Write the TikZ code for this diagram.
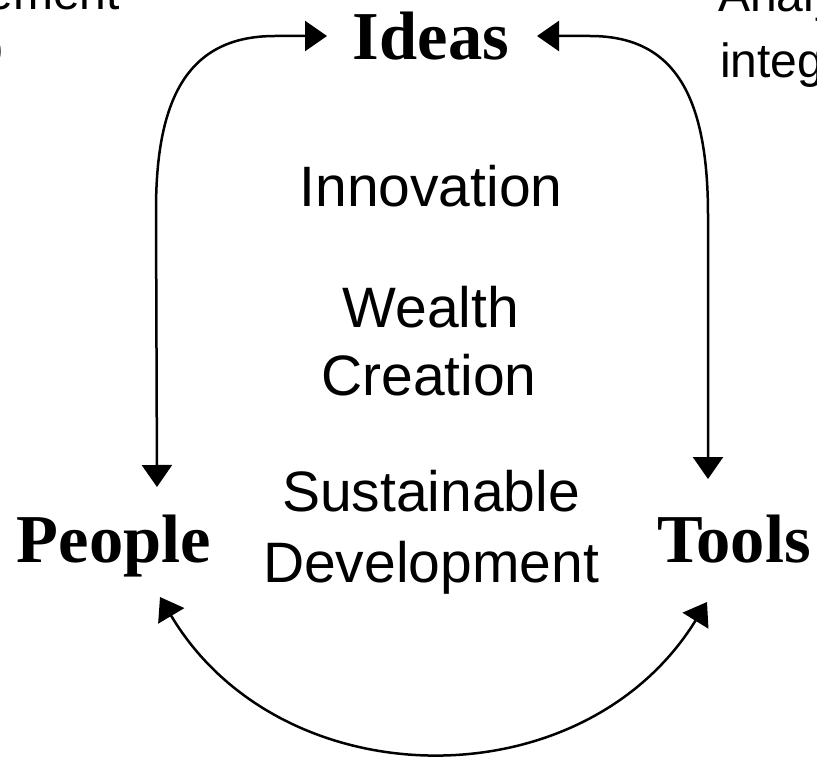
\documentclass[tikz,border=0pt]{standalone}
\usepackage{fontspec}
\setmainfont{Liberation Serif}
\newfontfamily\arialfam{Liberation Sans}
\usetikzlibrary{arrows.meta}
\begin{document}
\begin{tikzpicture}[x=1pt,y=-1pt,
  big/.style={font=\fontsize{68.5}{68.5}\selectfont\bfseries, inner sep=0pt, anchor=base},
  mid/.style={font=\arialfam\fontsize{57}{57}\selectfont, inner sep=0pt, anchor=base},
  small/.style={font=\arialfam\fontsize{48}{48}\selectfont, inner sep=0pt},
  link/.style={line width=2.5pt, {Triangle[length=22pt,width=30pt]}-{Triangle[length=22pt,width=30pt]}}]
  \clip (0,0) rectangle (817,757);
  \useasboundingbox (0,0) rectangle (817,757);

  % corner fragments running off the page
  \node[small, anchor=base east] (frTL) at (120,10) {ement};
  \node[big, anchor=base east] (frTLb) at (4,68) {o};
  \node[small, anchor=base west] (frTR) at (718,12) {Analy};
  \node[small, anchor=base west] (frTR2) at (720,78) {integ};

  % the three poles
  \node[big] (ideas) at (431,60) {Ideas};
  \node[big] (people) at (114,562) {People};
  \node[big] (tools) at (734,562) {Tools};

  % centre texts
  \node[mid] (innov) at (431,206) {Innovation};
  \node[mid] (wealth) at (431,327) {Wealth};
  \node[mid] (creation) at (429,395) {Creation};
  \node[mid] (sustain) at (431,511) {Sustainable};
  \node[mid] (develop) at (431,582) {Development};

  % arrow tips beside the poles
  \coordinate (ideasW) at (327,36);
  \coordinate (ideasE) at (537,36);
  \coordinate (peopleN) at (157,487);
  \coordinate (peopleS) at (160,597);
  \coordinate (toolsN) at (708,479);
  \coordinate (toolsS) at (707,602);

  \draw[link] (peopleN) -- (156,210) .. controls (156,95) and (190,36) .. (275,36) -- (ideasW);
  \draw[link] (ideasE) -- (590,36) .. controls (672,36) and (708,92) .. (708,215) -- (toolsN);
  \draw[link] (peopleS) .. controls (281,800) and (583,803) .. (toolsS);
\end{tikzpicture}
\end{document}
